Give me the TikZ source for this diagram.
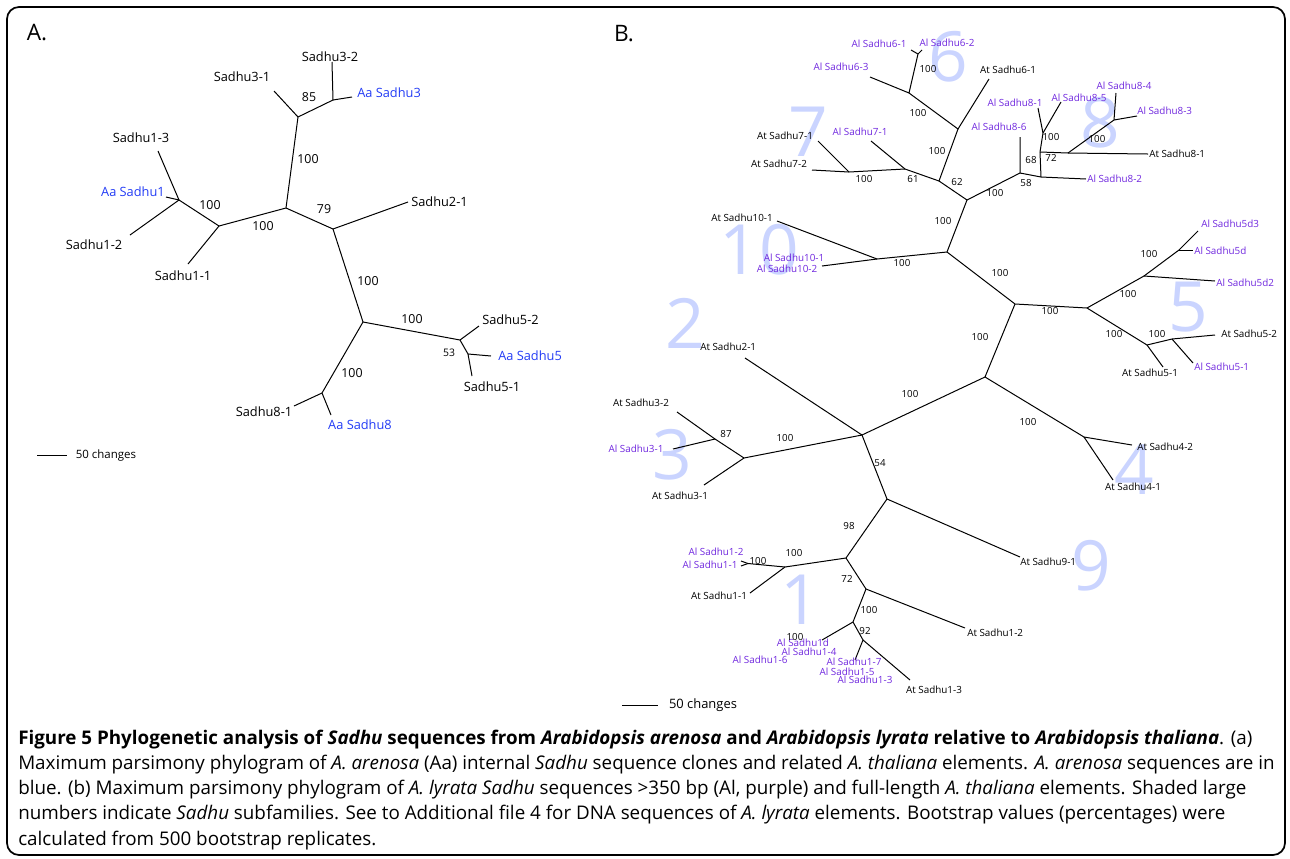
\documentclass[tikz,border=0pt]{standalone}
\usepackage{fontspec}
\setmainfont{Open Sans}
\usepackage{xcolor}
\usepackage{tikz}
\usetikzlibrary{positioning}

\definecolor{aablue}{RGB}{35,60,245}
\definecolor{alpurple}{RGB}{112,40,222}
\definecolor{shade}{RGB}{202,212,255}

\begin{document}
\begin{tikzpicture}[
        x=0.75pt, y=-0.75pt,
        branch/.style={line width=0.75pt},
        taxA/.style={font=\fontsize{9.6}{11}\selectfont, inner sep=0pt},
        aataxA/.style={taxA, text=aablue},
        taxB/.style={font=\fontsize{7.4}{9}\selectfont, inner sep=0pt},
        altaxB/.style={taxB, text=alpurple},
        bootA/.style={font=\fontsize{9.3}{11}\selectfont, inner sep=0pt},
        bootB/.style={font=\fontsize{7.3}{9}\selectfont, inner sep=0pt},
        subfam/.style={font=\fontsize{52}{52}\selectfont, text=shade, inner sep=0pt},
        panel/.style={font=\fontsize{17}{20}\selectfont, inner sep=0pt},
        capline/.style={font=\fontsize{14.1}{17}\selectfont, inner sep=0pt, anchor=base west}
    ]
    \useasboundingbox (0,0) rectangle (1290,858);
    \draw[line width=1.3pt, rounded corners=9pt] (7,7) rectangle (1285,855);

    % Panel labels
    \node[panel] (pA) at (37,33) {A.};
    \node[panel] (pB) at (624,34) {B.};

    % Shaded subfamily numbers
    \node[subfam] (f6) at (948,57) {6};
    \node[subfam] (f7) at (808,132) {7};
    \node[subfam] (f10) at (759,250) {10};
    \node[subfam] (f2) at (685,323) {2};
    \node[subfam] (f3) at (672,455) {3};
    \node[subfam] (f8) at (1100,123) {8};
    \node[subfam] (f5) at (1188,307) {5};
    \node[subfam] (f4) at (1134,470) {4};
    \node[subfam] (f9) at (1091,566) {9};
    \node[subfam] (f1) at (800,600) {1};

    % Tree A: junctions and tips
    \coordinate (a3) at (298,117);
    \coordinate (a3b) at (333,100);
    \coordinate (tS32) at (332,62);
    \coordinate (tAa3) at (352,97);
    \coordinate (tS31) at (274,91);
    \coordinate (ac1) at (286,208);
    \coordinate (a1) at (219,226);
    \coordinate (a1b) at (179,200);
    \coordinate (tS13) at (158,151);
    \coordinate (tAa1) at (166,197);
    \coordinate (tS12) at (130,235);
    \coordinate (tS11) at (188,264);
    \coordinate (ac2) at (333,229);
    \coordinate (tS21) at (408,202);
    \coordinate (ac3) at (363,322);
    \coordinate (a5) at (460,340);
    \coordinate (tS52) at (479,326);
    \coordinate (a5b) at (468,354);
    \coordinate (tAa5) at (491,356);
    \coordinate (tS51) at (472,376);
    \coordinate (a8) at (322,393);
    \coordinate (tS81) at (294,406);
    \coordinate (tAa8) at (331,415);

    % Tree A: edges
    \draw[branch] (ac1) -- (a3) -- (a3b) -- (tS32);
    \draw[branch] (a3b) -- (tAa3);
    \draw[branch] (a3) -- (tS31);
    \draw[branch] (ac1) -- (a1) -- (a1b) -- (tS13);
    \draw[branch] (a1b) -- (tAa1);
    \draw[branch] (a1b) -- (tS12);
    \draw[branch] (a1) -- (tS11);
    \draw[branch] (ac1) -- (ac2) -- (tS21);
    \draw[branch] (ac2) -- (ac3) -- (a5) -- (tS52);
    \draw[branch] (a5) -- (a5b) -- (tAa5);
    \draw[branch] (a5b) -- (tS51);
    \draw[branch] (ac3) -- (a8) -- (tS81);
    \draw[branch] (a8) -- (tAa8);

    % Tree A: taxa
    \node[taxA] (lS32) at (330,57) {Sadhu3-2};
    \node[taxA] (lS31) at (242,77) {Sadhu3-1};
    \node[aataxA, anchor=west] (lAa3) at (357,93) {Aa Sadhu3};
    \node[taxA] (lS13) at (141,138) {Sadhu1-3};
    \node[aataxA, anchor=east] (lAa1) at (165,192) {Aa Sadhu1};
    \node[taxA] (lS12) at (94,245) {Sadhu1-2};
    \node[taxA] (lS11) at (183,276) {Sadhu1-1};
    \node[taxA, anchor=west] (lS21) at (411,202) {Sadhu2-1};
    \node[taxA, anchor=west] (lS52) at (482,320) {Sadhu5-2};
    \node[aataxA, anchor=west] (lAa5) at (498,356) {Aa Sadhu5};
    \node[taxA] (lS51) at (492,387) {Sadhu5-1};
    \node[taxA] (lS81) at (264,412) {Sadhu8-1};
    \node[aataxA] (lAa8) at (360,425) {Aa Sadhu8};

    % Tree A: bootstrap values
    \node[bootA] (bA1) at (309,97) {85};
    \node[bootA] (bA2) at (308,159) {100};
    \node[bootA] (bA3) at (210,205) {100};
    \node[bootA] (bA4) at (263,226) {100};
    \node[bootA] (bA5) at (324,209) {79};
    \node[bootA] (bA6) at (368,281) {100};
    \node[bootA] (bA7) at (412,319) {100};
    \node[bootA, font=\fontsize{7.8}{9}\selectfont] (bA8) at (449,353) {53};
    \node[bootA] (bA9) at (352,373) {100};

    % Tree A: scale
    \coordinate (sbA1) at (37,455);
    \coordinate (sbA2) at (67,455);
    \draw[branch] (sbA1) -- (sbA2);
    \node[inner sep=0pt, font=\fontsize{8.6}{10}\selectfont] (sbAt) at (106,456) {50 changes};

    % Tree B: junctions and tips
    \coordinate (b6a) at (918,54);
    \coordinate (t61) at (911,50);
    \coordinate (t62) at (922,50);
    \coordinate (b6b) at (909,93);
    \coordinate (t63) at (870,77);
    \coordinate (b6c) at (958,129);
    \coordinate (t6At) at (989,79);
    \coordinate (b67) at (939,181);
    \coordinate (b7a) at (905,169);
    \coordinate (t71Al) at (871,141);
    \coordinate (b7b) at (849,172);
    \coordinate (t71At) at (818,141);
    \coordinate (t72At) at (812,170);
    \coordinate (bB1) at (967,200);
    \coordinate (b8b) at (1020,173);
    \coordinate (t86) at (1020,137);
    \coordinate (b8c) at (1041,177);
    \coordinate (t82) at (1086,179);
    \coordinate (b8d) at (1040,152);
    \coordinate (b8e) at (1043,133);
    \coordinate (t81) at (1038,108);
    \coordinate (t85) at (1061,102);
    \coordinate (b8f) at (1068,153);
    \coordinate (t81At) at (1148,154);
    \coordinate (b8g) at (1114,120);
    \coordinate (t84) at (1116,93);
    \coordinate (t83) at (1137,116);
    \coordinate (bB2) at (947,252);
    \coordinate (b10) at (877,259);
    \coordinate (t10At) at (777,221);
    \coordinate (t10Al) at (822,266);
    \coordinate (bB3) at (1015,304);
    \coordinate (b5a) at (1087,308);
    \coordinate (b5b) at (1144,276);
    \coordinate (t5d2) at (1215,281);
    \coordinate (b5c) at (1179,250);
    \coordinate (t5d3) at (1198,231);
    \coordinate (t5d) at (1193,250);
    \coordinate (b5d) at (1147,345);
    \coordinate (t51At) at (1163,367);
    \coordinate (b5e) at (1172,339);
    \coordinate (t52At) at (1215,335);
    \coordinate (t51Al) at (1193,363);
    \coordinate (bB4) at (985,377);
    \coordinate (b4) at (1084,437);
    \coordinate (t42) at (1132,445);
    \coordinate (t41) at (1113,480);
    \coordinate (bC) at (862,435);
    \coordinate (t2At) at (745,358);
    \coordinate (b3) at (744,458);
    \coordinate (b3b) at (715,439);
    \coordinate (t32At) at (677,412);
    \coordinate (t31Al) at (673,449);
    \coordinate (t31At) at (704,485);
    \coordinate (bD) at (887,499);
    \coordinate (t9) at (1020,557);
    \coordinate (bE) at (846,558);
    \coordinate (b1a) at (785,567);
    \coordinate (b1b) at (748,563.5);
    \coordinate (t12Al) at (741,561);
    \coordinate (t11Al) at (741,566);
    \coordinate (t11At) at (750,593);
    \coordinate (bF) at (866,589);
    \coordinate (t12At) at (965,628);
    \coordinate (bG) at (853,622);
    \coordinate (t1d) at (822,640);
    \coordinate (bH) at (863,640);
    \coordinate (t17) at (855,660);
    \coordinate (t13At) at (910,680);

    % Tree B: edges
    \draw[branch] (t61) -- (b6a) -- (t62);
    \draw[branch] (b6a) -- (b6b) -- (t63);
    \draw[branch] (b6b) -- (b6c) -- (t6At);
    \draw[branch] (b6c) -- (b67) -- (b7a) -- (t71Al);
    \draw[branch] (b7a) -- (b7b) -- (t71At);
    \draw[branch] (b7b) -- (t72At);
    \draw[branch] (b67) -- (bB1) -- (b8b) -- (t86);
    \draw[branch] (b8b) -- (b8c) -- (t82);
    \draw[branch] (b8c) -- (b8d) -- (b8e) -- (t81);
    \draw[branch] (b8e) -- (t85);
    \draw[branch] (b8d) -- (b8f) -- (t81At);
    \draw[branch] (b8f) -- (b8g) -- (t84);
    \draw[branch] (b8g) -- (t83);
    \draw[branch] (bB1) -- (bB2) -- (b10) -- (t10At);
    \draw[branch] (b10) -- (t10Al);
    \draw[branch] (bB2) -- (bB3) -- (b5a) -- (b5b) -- (t5d2);
    \draw[branch] (b5b) -- (b5c) -- (t5d3);
    \draw[branch] (b5c) -- (t5d);
    \draw[branch] (b5a) -- (b5d) -- (t51At);
    \draw[branch] (b5d) -- (b5e) -- (t52At);
    \draw[branch] (b5e) -- (t51Al);
    \draw[branch] (bB3) -- (bB4) -- (b4) -- (t42);
    \draw[branch] (b4) -- (t41);
    \draw[branch] (bB4) -- (bC) -- (t2At);
    \draw[branch] (bC) -- (b3) -- (b3b) -- (t32At);
    \draw[branch] (b3b) -- (t31Al);
    \draw[branch] (b3) -- (t31At);
    \draw[branch] (bC) -- (bD) -- (t9);
    \draw[branch] (bD) -- (bE) -- (b1a) -- (b1b) -- (t12Al);
    \draw[branch] (b1b) -- (t11Al);
    \draw[branch] (b1a) -- (t11At);
    \draw[branch] (bE) -- (bF) -- (t12At);
    \draw[branch] (bF) -- (bG) -- (t1d);
    \draw[branch] (bG) -- (bH) -- (t17);
    \draw[branch] (bH) -- (t13At);

    % Tree B: taxa
    \node[altaxB] (l61) at (879,44) {Al Sadhu6-1};
    \node[altaxB] (l62) at (947,43) {Al Sadhu6-2};
    \node[altaxB] (l63) at (841,67) {Al Sadhu6-3};
    \node[taxB] (l6At) at (1008,70) {At Sadhu6-1};
    \node[taxB] (l71At) at (785,136) {At Sadhu7-1};
    \node[taxB] (l72At) at (779,164) {At Sadhu7-2};
    \node[altaxB] (l71Al) at (860,132) {Al Sadhu7-1};
    \node[altaxB] (l86) at (999,127) {Al Sadhu8-6};
    \node[altaxB] (l81) at (1015,103) {Al Sadhu8-1};
    \node[altaxB] (l85) at (1079,98) {Al Sadhu8-5};
    \node[altaxB] (l84) at (1124,86) {Al Sadhu8-4};
    \node[altaxB, anchor=west] (l83) at (1137,111) {Al Sadhu8-3};
    \node[taxB, anchor=west] (l81At) at (1149,154) {At Sadhu8-1};
    \node[altaxB, anchor=west] (l82) at (1087,179) {Al Sadhu8-2};
    \node[taxB] (l10At) at (742,218) {At Sadhu10-1};
    \node[altaxB] (l101) at (794,258) {Al Sadhu10-1};
    \node[altaxB] (l102) at (787,269) {Al Sadhu10-2};
    \node[altaxB, anchor=west] (l5d3) at (1201,224) {Al Sadhu5d3};
    \node[altaxB, anchor=west] (l5d) at (1194,251) {Al Sadhu5d};
    \node[altaxB, anchor=west] (l5d2) at (1216,283) {Al Sadhu5d2};
    \node[taxB, anchor=west] (l52At) at (1221,334) {At Sadhu5-2};
    \node[altaxB, anchor=west] (l51Al) at (1194,367) {Al Sadhu5-1};
    \node[taxB] (l51At) at (1150,373) {At Sadhu5-1};
    \node[taxB, anchor=west] (l42) at (1137,447) {At Sadhu4-2};
    \node[taxB] (l41) at (1133,487) {At Sadhu4-1};
    \node[taxB, anchor=west] (l2At) at (700,347) {At Sadhu2-1};
    \node[taxB] (l32At) at (641,403) {At Sadhu3-2};
    \node[altaxB] (l31Al) at (636,449) {Al Sadhu3-1};
    \node[taxB] (l31At) at (680,496) {At Sadhu3-1};
    \node[taxB, anchor=west] (l9) at (1020,562) {At Sadhu9-1};
    \node[altaxB] (l12Al) at (716,552) {Al Sadhu1-2};
    \node[altaxB] (l11Al) at (710,565) {Al Sadhu1-1};
    \node[taxB] (l11At) at (719,596) {At Sadhu1-1};
    \node[taxB, anchor=west] (l12At) at (967,633) {At Sadhu1-2};
    \node[altaxB] (l1d) at (803,643) {Al Sadhu1d};
    \node[altaxB] (l14) at (809,652) {Al Sadhu1-4};
    \node[altaxB] (l16) at (760,660) {Al Sadhu1-6};
    \node[altaxB] (l17) at (854,662) {Al Sadhu1-7};
    \node[altaxB] (l15) at (847,672) {Al Sadhu1-5};
    \node[altaxB] (l13) at (865,680) {Al Sadhu1-3};
    \node[taxB] (l13At) at (934,690) {At Sadhu1-3};

    % Tree B: bootstrap values
    \node[bootB] (bB61) at (928,69) {100};
    \node[bootB] (bB62) at (918,113) {100};
    \node[bootB] (bB63) at (937,151) {100};
    \node[bootB] (bB71) at (864,179) {100};
    \node[bootB] (bB72) at (913,179) {61};
    \node[bootB] (bB73) at (957,182) {62};
    \node[bootB] (bB81) at (995,193) {100};
    \node[bootB] (bB82) at (1026,183) {58};
    \node[bootB] (bB83) at (1031,160) {68};
    \node[bootB] (bB84) at (1051,158) {72};
    \node[bootB] (bB85) at (1051,137) {100};
    \node[bootB] (bB86) at (1097,139) {100};
    \node[bootB] (bB91) at (943,221) {100};
    \node[bootB] (bB92) at (902,263) {100};
    \node[bootB] (bB93) at (1000,273) {100};
    \node[bootB] (bB51) at (1050,311) {100};
    \node[bootB] (bB52) at (1128,294) {100};
    \node[bootB] (bB53) at (1149,254) {100};
    \node[bootB] (bB54) at (1114,334) {100};
    \node[bootB] (bB55) at (1157,334) {100};
    \node[bootB] (bB41) at (980,337) {100};
    \node[bootB] (bB42) at (1028,422) {100};
    \node[bootB] (bB21) at (910,394) {100};
    \node[bootB] (bB31) at (785,438) {100};
    \node[bootB] (bB32) at (726,434) {87};
    \node[bootB] (bB33) at (880,463) {54};
    \node[bootB] (bB11) at (849,526) {98};
    \node[bootB] (bB12) at (794,553) {100};
    \node[bootB] (bB13) at (758,561) {100};
    \node[bootB] (bB14) at (847,579) {72};
    \node[bootB] (bB15) at (869,610) {100};
    \node[bootB] (bB16) at (795,637) {100};
    \node[bootB] (bB17) at (865,631) {92};

    % Tree B: scale
    \coordinate (sbB1) at (622,705);
    \coordinate (sbB2) at (658,705);
    \draw[branch] (sbB1) -- (sbB2);
    \node[inner sep=0pt, font=\fontsize{9.7}{11}\selectfont] (sbBt) at (703,705) {50 changes};

    % Caption
    \node[capline] (cap1) at (18,744) {\textbf{Figure 5 Phylogenetic analysis of \textit{Sadhu} sequences from \textit{Arabidopsis arenosa} and \textit{Arabidopsis lyrata} relative to \textit{Arabidopsis thaliana}}. (a)};
    \node[capline] (cap2) at (18,769) {Maximum parsimony phylogram of \textit{A. arenosa} (Aa) internal \textit{Sadhu} sequence clones and related \textit{A. thaliana} elements. \textit{A. arenosa} sequences are in};
    \node[capline] (cap3) at (18,794) {blue. (b) Maximum parsimony phylogram of \textit{A. lyrata Sadhu} sequences >350 bp (Al, purple) and full-length \textit{A. thaliana} elements. Shaded large};
    \node[capline] (cap4) at (18,819) {numbers indicate \textit{Sadhu} subfamilies. See to Additional file 4 for DNA sequences of \textit{A. lyrata} elements. Bootstrap values (percentages) were};
    \node[capline] (cap5) at (18,845) {calculated from 500 bootstrap replicates.};

\end{tikzpicture}
\end{document}
